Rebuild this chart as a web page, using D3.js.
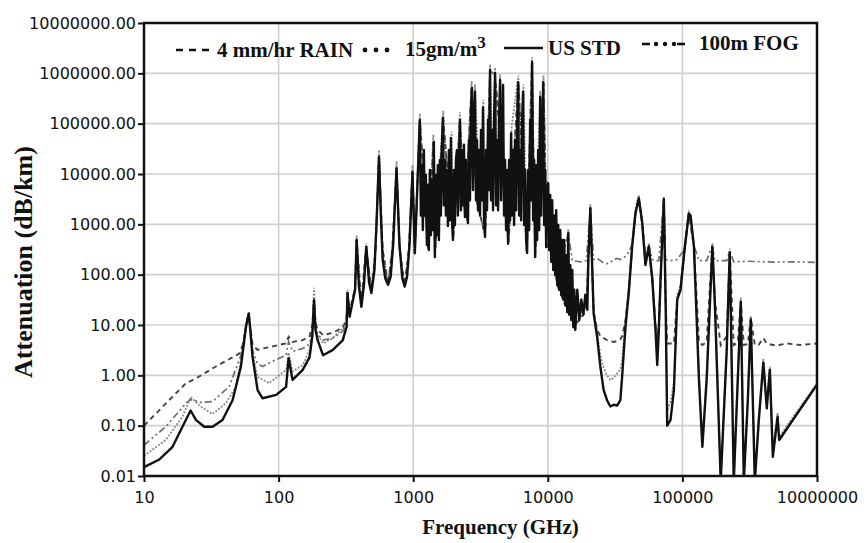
<!DOCTYPE html>
<html>
<head>
<meta charset="utf-8">
<script src="https://cdn.jsdelivr.net/npm/d3@7"></script>
<style>
  html, body { margin: 0; padding: 0; background: #fff; }
  svg { display: block; }
</style>
</head>
<body>
<div id="chart"></div>
<script>
// ---------------- DATA (frequency GHz, attenuation dB/km) ----------------
const xTickValues = [10, 100, 1000, 10000, 100000, 1000000];
const xTickLabels = ["10", "100", "1000", "10000", "100000", "10000000"];
const yTickValues = [0.01, 0.1, 1, 10, 100, 1000, 10000, 100000, 1000000, 10000000];
const yTickLabels = ["0.01", "0.10", "1.00", "10.00", "100.00", "1000.00", "10000.00", "100000.00", "1000000.00", "10000000.00"];

const seriesNames = ["4 mm/hr RAIN", "15gm/m", "US STD", "100m FOG"];

const usStd = [
[10,0.015],[12.9,0.021],[16.3,0.038],[19.3,0.095],[22.2,0.2],[24.3,0.13],[28,0.095],[32.3,0.095],[38.3,0.13],[45.5,0.32],[52.5,1.5],[57.3,9.3],[60,17],[61.3,9.3],[64.1,2.3],[69.8,0.51],[76,0.35],[96,0.41],[113.7,0.59],[118.7,2.2],[127,0.81],[151,1.28],[170,2.3],[178,6],[183.3,31],[188,8],[195,5],[214,2.5],[253,3.2],[300,5],[320,9.3],[325,43],[337,14.6],[370,50],[380,490],[395,60],[412,23],[430,60],[448,360],[470,70],[489,43],[515,120],[535,1200],[557,22000],[575,1500],[593,200],[620,85],[650,63],[680,90],[710,400],[752,13000],[790,400],[830,85],[865,58],[900,90],[940,400],[988,11000],[1028,266],[1064,3000],
[1120,118000],[1140,1500],[1159,15000],[1179,770],[1200,30000],[1220,1500],[1242,9600],[1263,390],[1285,6100],[1307,310],[1330,12000],[1353,610],[1376,7600],[1400,770],[1424,43000],[1449,225],[1474,9600],[1499,610],[1525,15000],[1552,490],[1578,19000],[1606,1500],[1633,30000],[1662,130000],[1690,2400],[1720,19000],[1750,1500],[1780,12000],[1811,930],[1842,30000],[1874,1200],[1906,52000],[1939,1500],[1973,490],[2007,12000],[2042,970],[2077,19000],[2113,30000],[2150,1500],[2187,15000],[2225,118000],[2263,1900],[2302,30000],[2342,2400],[2383,38000],[2424,1400],[2466,19000],[2509,1500],[2552,1060],[2596,47000],[2641,3000],[2687,187000],[2733,510000],[2781,4800],[2829,118000],[2878,430000],[2928,3000],[2978,47000],[3030,1900],[3082,30000],[3136,1500],[3190,75000],[3245,3000],[3302,210000],[3359,1200],[3417,560],[3476,30000],[3536,1900],[3597,118000],[3660,4800],[3723,1170000],[3787,3000],[3853,75000],[3920,1900],[3987,118000],[4056,1020000],[4127,2400],[4198,47000],[4271,1900],[4344,118000],[4420,740000],[4496,3000],[4574,30000],[4653,590000],[4733,1500],[4815,19000],[4898,770],[4983,12000],[5069,410],[5157,19000],[5246,1200],[5337,65000],[5429,1500],[5523,30000],[5618,970],[5715,47000],[5814,1900],[5915,75000],[6017,670000],[6121,1500],[6227,30000],[6335,1200],[6444,118000],[6556,430000],[6669,970],[6784,12000],[6902,490],[7021,270],[7143,12000],[7266,770],[7392,118000],[7520,3000],[7650,1680000],[7782,1200],[7917,19000],[8054,225],[8193,15000],[8335,490],[8479,30000],[8626,770],[8775,340000],[8927,1500],[9081,47000],[9238,670000],[9398,970],[9561,12000],[9727,355],[9897,4800],[10069,6600],
[10243,310],[10420,3830],[10600,180],[10784,3000],[10971,124],[11161,1500],[11354,98],[11551,1900],[11751,62],[11954,970],[12161,50],[12372,770],[12586,40],[12804,490],[13026,32],[13251,490],[13481,25],[13714,245],[13952,18],[14193,670],[14439,16],[14689,155],[14944,12.6],[15203,124],[15466,9],[15734,50],[16006,8],[16566,50],[17144,12.6],[17743,32],[18362,16],[19003,40],[19666,20],[20007,195],[20706,2100],
[21900,17],[23250,5.8],[24560,1.5],[26000,0.51],[27550,0.32],[29170,0.24],[30900,0.26],[32730,0.25],[34600,0.32],[35650,0.93],[37740,9],[39930,43],[42340,360],[44800,1650],[47400,3300],[50220,1100],[53170,155],[56260,360],[59660,85],[63100,8],[65020,1.6],[66800,8],[68820,78],[72800,3200],[74990,32],[77120,0.1],[81660,0.13],[86460,0.51],[91540,32],[96830,50],[103700,310],[111700,1650],[115000,1500],[121800,360],[132800,0.81],[140700,0.038],[151400,0.81],[167000,360],[173800,32],[192600,0.008],[213500,3.2],[224700,280],[240800,0.008],[257900,0.81],[271600,29],[286000,0.008],[306300,0.32],[322300,12.6],[345100,0.008],[369800,0.13],[399300,1.8],[423700,0.22],[446400,1.3],[469900,0.024],[509300,0.15],[523600,0.052],[1000000,0.65]
];

const vapor15 = [
[10,0.025],[14.5,0.052],[19.3,0.15],[22.2,0.37],[26.4,0.24],[32.3,0.17],[40.6,0.28],[48.2,0.59],[52.5,2],[57.3,10],[60,17],[61.3,10],[64.1,2.6],[69.8,0.93],[85,0.7],[114,1.28],[118.7,2.8],[127,1.2],[151,1.6],[170,3.2],[178,8],[183.3,55],[188,10],[195,6.3],[214,4.3],[253,5.5],[300,8.7],[320,12],[325,50],[337,16],[370,55],[380,600],[395,70],[412,28],[430,70],[448,420],[470,80],[489,50],[515,140],[535,1400],[557,30000],[575,1800],[593,230],[620,95],[650,70],[680,100],[710,450],[752,18000],[790,450],[830,95],[865,65],[900,100],[940,450],[988,15000],[1028,300],[1064,3500],[1120,160000],[1219,2000],[1291,400],[1413,60000],[1449,280],[1671,180000],[1820,1100],[1929,70000],[1983,600],[2223,170000],[2425,1600],[2719,700000],[2794,9000],[2876,600000],[3135,1800],[3319,300000],[3420,650],[3724,1500000],[3937,3500],[4055,1300000],[4295,2200],[4416,950000],[4819,3500],[5093,480],[5395,90000],[6053,900000],[6223,9000],[6592,600000],[6982,320],[7621,2100000],[8054,280],[8770,450000],[9036,3500],[9290,900000],[9840,420],[10420,380],[11170,150],[11950,60],[12800,40],[13710,25],[14190,800],[14690,17],[15730,10],[17430,15],[19320,25],[20700,2500],[21900,20],[23250,7],[24560,2.5],[26000,1.4],[27550,1.0],[29170,0.8],[30900,0.9],[32730,1.1],[34600,1.3],[35650,2],[37740,12],[39930,55],[42340,450],[44800,2000],[47400,3800],[50220,1300],[53170,180],[56260,420],[59660,100],[63100,10],[65020,2],[66800,10],[68820,90],[72800,3500],[74990,40],[77120,0.2],[81660,0.3],[86460,0.7],[91540,40],[96830,60],[103700,350],[111700,1900],[121800,420],[132800,1],[140700,0.05],[151400,1],[167000,420],[173800,40],[192600,0.008],[213500,4],[224700,330],[240800,0.008],[257900,1],[271600,35],[286000,0.008],[306300,0.4],[322300,15],[345100,0.008],[369800,0.16],[399300,2.2],[423700,0.26],[446400,1.5],[469900,0.03],[509300,0.18],[523600,0.06],[1000000,0.7]
];

const rain4 = [
[10,0.1],[20.5,0.7],[24,0.85],[34.2,1.5],[51,2.7],[55,4.5],[57.3,10],[60,17],[61.3,10],[64.1,4],[69.8,3.2],[76,3.4],[96,3.9],[113,4.3],[118.7,5.8],[127,4.6],[151,5.0],[170,6],[178,10],[183.3,33],[188,11],[195,8],[214,6.3],[253,7],[300,9],[320,13],[325,45],[337,18],[370,55],[380,490],[412,28],[448,370],[489,48],[526,315],[557,22000],[593,315],[650,65],[699,315],[752,13000],[794,315],[865,60],[927,315],[988,11000],[1028,270],[1064,3000],[1120,120000],[1291,320],[1413,43000],[1449,240],[1671,120000],[1983,500],[2223,110000],[2425,1400],[2719,500000],[2962,3000],[3420,600],[3724,1100000],[4055,950000],[5093,420],[6053,650000],[6982,280],[7621,1600000],[8054,240],[9290,650000],[9840,360],[10420,320],[11170,130],[11950,55],[12800,35],[13710,22],[14690,15],[15730,10],[17430,13],[19320,20],[20700,2100],[21900,18],[23250,8],[24560,6],[27550,5],[29170,4.8],[30900,4.6],[32730,4.8],[34600,5.2],[35650,6],[37740,12],[39930,44],[42340,360],[44800,1650],[47400,3300],[50220,1100],[53170,160],[56260,360],[59660,86],[63100,10],[65020,5.5],[66800,10],[68820,80],[72800,3200],[74990,33],[77120,4.3],[86460,4.3],[91540,33],[96830,52],[103700,310],[111700,1650],[121800,360],[132800,4.6],[140700,4.0],[151400,4.6],[167000,360],[173800,33],[192600,4.0],[213500,6],[224700,280],[240800,4.0],[257900,4.5],[271600,29],[286000,4.0],[306300,4.2],[322300,14],[345100,4.0],[369800,4.1],[399300,5.5],[423700,4.3],[469900,4.0],[523600,4.0],[600000,4.3],[750000,4.0],[1000000,4.3]
];

const fog100 = [
[10,0.041],[14.5,0.095],[20.5,0.28],[22.2,0.33],[26.4,0.29],[32.3,0.3],[43,0.6],[52.5,2.5],[57.3,10],[60,17],[61.3,10],[64.1,3],[69.8,1.7],[76,1.5],[90,1.9],[113.7,2.5],[118.7,4.7],[127,3.0],[151,3.4],[170,4.2],[178,8],[183.3,32],[188,9],[195,6.5],[214,5],[253,5.5],[300,7.5],[320,11],[325,44],[337,16],[370,52],[380,490],[412,25],[448,365],[489,45],[526,312],[557,22000],[593,312],[650,64],[699,312],[752,13000],[794,312],[865,60],[927,312],[988,11000],[1028,270],[1064,3000],[1120,120000],[1291,320],[1413,43000],[1449,240],[1671,120000],[1983,500],[2223,110000],[2425,1400],[2719,500000],[2962,3000],[3420,600],[3724,1100000],[4055,950000],[5093,420],[6053,650000],[6982,280],[7621,1600000],[8054,240],[9290,650000],[9840,360],[10420,330],[11170,190],[12370,800],[12800,200],[14190,680],[15200,190],[17430,180],[19320,190],[20700,2100],[21900,200],[23250,210],[24560,190],[26000,170],[27550,165],[29170,175],[30900,200],[32730,210],[34600,200],[37740,230],[39930,280],[42340,400],[44800,1650],[47400,3300],[50220,1100],[53170,250],[56260,400],[59660,200],[63100,190],[66800,190],[72800,3200],[74990,200],[81660,190],[91540,200],[103700,320],[111700,1650],[121800,380],[132800,190],[151400,190],[167000,380],[173800,190],[213500,190],[224700,290],[240800,180],[300000,185],[400000,180],[500000,178],[700000,180],[1000000,175]
];

// ---------------- LAYOUT ----------------
const W = 866, H = 543;
const margin = { left: 144, top: 23, right: 49, bottom: 67 };
const x0 = margin.left, x1 = W - margin.right, y0 = margin.top, y1 = H - margin.bottom;

const svg = d3.select("#chart").append("svg").attr("width", W).attr("height", H);

const x = d3.scaleLog().domain([10, 1000000]).range([x0, x1]);
const y = d3.scaleLog().domain([0.01, 10000000]).range([y1, y0]);

// gridlines
const grid = svg.append("g");
grid.selectAll("line.h").data(yTickValues.slice(1, -1)).join("line")
  .attr("x1", x0).attr("x2", x1).attr("y1", d => y(d)).attr("y2", d => y(d))
  .attr("stroke", "#cfcfcf").attr("stroke-width", 1.6);
grid.selectAll("line.v").data(xTickValues.slice(1, -1)).join("line")
  .attr("x1", d => x(d)).attr("x2", d => x(d)).attr("y1", y0).attr("y2", y1)
  .attr("stroke", "#cfcfcf").attr("stroke-width", 1.6);

// clip
svg.append("clipPath").attr("id", "plotclip").append("rect")
  .attr("x", x0).attr("y", y0).attr("width", x1 - x0).attr("height", y1 - y0);

const line = d3.line().x(d => x(d[0])).y(d => y(d[1]));
const plot = svg.append("g").attr("clip-path", "url(#plotclip)");

plot.append("path").datum(vapor15).attr("d", line)
  .attr("fill", "none").attr("stroke", "#8c8c8c").attr("stroke-width", 1.8)
  .attr("stroke-dasharray", "2,1.5");
plot.append("path").datum(fog100).attr("d", line)
  .attr("fill", "none").attr("stroke", "#6e6e6e").attr("stroke-width", 1.7)
  .attr("stroke-dasharray", "7,3,2,3,2,3");
plot.append("path").datum(rain4).attr("d", line)
  .attr("fill", "none").attr("stroke", "#444").attr("stroke-width", 1.9)
  .attr("stroke-dasharray", "5,4");
plot.append("path").datum(usStd).attr("d", line)
  .attr("fill", "none").attr("stroke", "#111").attr("stroke-width", 2.4)
  .attr("stroke-linejoin", "round");

// axes
const yAxis = d3.axisLeft(y).tickValues(yTickValues)
  .tickFormat((d, i) => yTickLabels[i]).tickSizeInner(6).tickSizeOuter(0).tickPadding(2);
const gy = svg.append("g").attr("transform", `translate(${x0},0)`).call(yAxis);
gy.select(".domain").remove();
gy.selectAll(".tick line").attr("stroke", "#111").attr("stroke-width", 2);
gy.selectAll(".tick text").attr("font-family", "DejaVu Sans, sans-serif").attr("font-size", 16).attr("fill", "#111");

const xAxis = d3.axisBottom(x).tickValues(xTickValues)
  .tickFormat((d, i) => xTickLabels[i]).tickSizeInner(6).tickSizeOuter(0).tickPadding(10);
const gx = svg.append("g").attr("transform", `translate(0,${y1})`).call(xAxis);
gx.select(".domain").remove();
gx.selectAll(".tick line").attr("stroke", "#111").attr("stroke-width", 2);
gx.selectAll(".tick text").attr("font-family", "DejaVu Sans, sans-serif").attr("font-size", 16).attr("fill", "#111");

// frame
svg.append("rect").attr("x", x0).attr("y", y0).attr("width", x1 - x0).attr("height", y1 - y0)
  .attr("fill", "none").attr("stroke", "#111").attr("stroke-width", 2.5);

// axis titles
svg.append("text").attr("x", (x0 + x1) / 2 + 20).attr("y", 534)
  .attr("text-anchor", "middle").attr("font-family", "Liberation Serif, serif")
  .attr("font-weight", "bold").attr("font-size", 21).attr("fill", "#111")
  .text("Frequency (GHz)");
svg.append("text").attr("transform", "translate(32,262) rotate(-90)")
  .attr("text-anchor", "middle").attr("font-family", "Liberation Serif, serif")
  .attr("font-weight", "bold").attr("font-size", 26).attr("fill", "#111")
  .text("Attenuation (dB/km)");

// legend
const lg = svg.append("g").attr("font-family", "Liberation Serif, serif")
  .attr("font-weight", "bold").attr("font-size", 21).attr("fill", "#111");
// rain
lg.append("line").attr("x1", 176).attr("x2", 213).attr("y1", 50).attr("y2", 50)
  .attr("stroke", "#111").attr("stroke-width", 2.6).attr("stroke-dasharray", "7,6");
lg.append("text").attr("x", 217).attr("y", 57).text(seriesNames[0]);
// 15gm
lg.selectAll("circle.v").data([0, 1, 2]).join("circle")
  .attr("cx", d => 365 + d * 11).attr("cy", 50).attr("r", 2.4).attr("fill", "#111");
const t2 = lg.append("text").attr("x", 405).attr("y", 56).text(seriesNames[1]);
t2.append("tspan").attr("dy", -8).attr("font-size", 17).text("3");
// us std
lg.append("line").attr("x1", 504).attr("x2", 543).attr("y1", 48).attr("y2", 48)
  .attr("stroke", "#111").attr("stroke-width", 2.6);
lg.append("text").attr("x", 548).attr("y", 55).text(seriesNames[2]);
// fog
lg.append("line").attr("x1", 642).attr("x2", 650).attr("y1", 44).attr("y2", 44)
  .attr("stroke", "#111").attr("stroke-width", 2.6);
lg.selectAll("circle.f").data([0, 1, 2]).join("circle")
  .attr("cx", d => 656 + d * 9).attr("cy", 44).attr("r", 2.2).attr("fill", "#111");
lg.append("line").attr("x1", 677).attr("x2", 685).attr("y1", 44).attr("y2", 44)
  .attr("stroke", "#111").attr("stroke-width", 2.6);
lg.append("text").attr("x", 699).attr("y", 50).text(seriesNames[3]);
</script>
</body>
</html>
